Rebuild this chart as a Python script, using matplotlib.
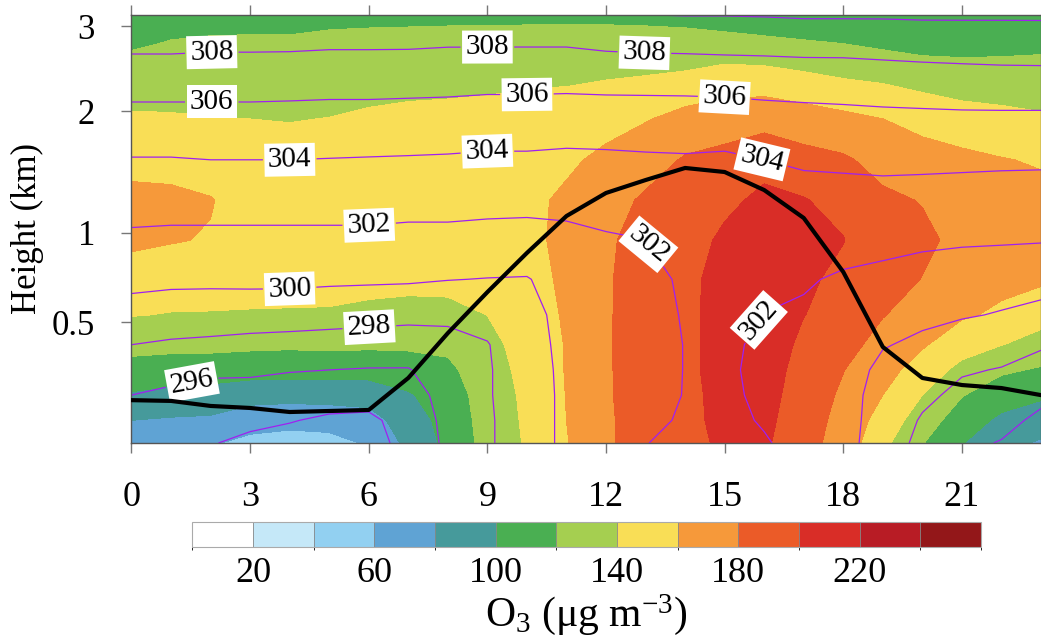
import numpy as np
import matplotlib
matplotlib.use('Agg')
import matplotlib.pyplot as plt
from matplotlib.colors import ListedColormap, BoundaryNorm

plt.rcParams['font.family'] = ['Liberation Serif', 'DejaVu Serif']
plt.rcParams['mathtext.fontset'] = 'custom'
plt.rcParams['mathtext.rm'] = 'Liberation Serif'
plt.rcParams['mathtext.it'] = 'Liberation Serif:italic'

hours = list(range(24))
heights_km = [0.02, 0.11, 0.21, 0.31, 0.41, 0.54, 0.74, 0.96, 1.27, 1.60, 1.93, 2.37, 2.78, 3.13]

# O3 (ug m-3), one list per hour, bottom -> top
o3_by_hour = [
    [70, 80, 98, 113, 126, 141, 153, 163, 166, 153, 142, 129.4, 118.1, 108.4],
    [68, 78, 94, 111, 125, 139, 151, 161, 165, 152, 141.4, 130.7, 121.3, 113.3],
    [62, 77, 92, 110, 125, 139, 148, 159, 161, 150, 140.6, 130.7, 122.2, 114.9],
    [55, 68, 88, 108, 124, 138, 150, 153, 152, 146, 140.1, 130.6, 122.4, 115.3],
    [52, 66, 87, 108, 123, 137.5, 150, 153, 152, 146, 139.5, 130.3, 122.3, 115.4],
    [54, 67, 88, 108, 124, 137, 150, 154, 153, 147, 140.4, 131.4, 123.4, 116.6],
    [62, 72, 88, 108, 123, 134, 148, 155, 154, 148, 142.5, 132.7, 124.1, 116.8],
    [85, 90, 98, 111, 123, 133, 146, 156, 155, 150, 144.3, 133.9, 124.7, 116.8],
    [105, 107, 110, 116, 124, 134, 146, 156, 155, 150, 145, 134.6, 125.1, 117],
    [127, 128, 129, 131, 134, 140.2, 150, 157, 156, 151, 146, 135.6, 125.5, 116.8],
    [142, 143, 144, 146, 148, 151, 154, 156, 156, 152, 149, 136.9, 126.2, 116.9],
    [159, 160, 160.5, 161, 161, 162, 163, 164, 163, 157, 147.4, 138.3, 126.7, 116.7],
    [176, 176, 177, 177, 177, 177, 177, 176, 172, 164, 154, 139.8, 127.3, 116.4],
    [192, 193, 193, 194, 194, 194, 193, 190, 183, 171, 159.1, 141.6, 127.6, 115.6],
    [193, 194, 194, 195, 195, 195, 195, 193, 189, 182, 166, 144.1, 127.6, 114.2],
    [204, 206, 207, 208, 208, 208, 207, 203, 196, 186, 170.5, 149.2, 128.4, 109],
    [203, 205, 207, 209, 211, 212, 211, 209, 204, 194, 173, 149.1, 126.2, 105.5],
    [187, 189, 191, 193, 196, 200.5, 203, 204, 201, 187, 168.6, 145, 123.1, 104.4],
    [172, 174, 177, 180.5, 186, 191, 196, 200.5, 194, 183, 163.7, 140.6, 120.6, 103.4],
    [145, 152, 160, 167, 174, 181, 188, 189, 184, 172.7, 160.3, 137.6, 117, 104],
    [121, 130, 140, 151.6, 162, 170, 179.5, 184, 179, 168, 154, 132.6, 114.2, 105],
    [101, 110, 121, 134, 149, 163, 171, 175, 172, 165, 148, 129.4, 114.5, 106],
    [85, 96, 109, 123, 140.5, 156, 166, 170, 168, 161, 145, 128.8, 115.4, 106],
    [78, 89, 103, 118, 133, 148, 163, 168, 166, 158, 142, 128.6, 116.6, 107],
]

# potential temperature (K), one list per hour, bottom -> top
theta_by_hour = [
    [294.4, 295.2, 296.0, 297.0, 298.0, 299.25, 300.5, 301.7, 302.8, 303.9, 305.4, 306.9, 308.4, 309.6],
    [294.3, 294.9, 295.6, 296.7, 297.8, 299.0, 300.4, 301.6, 302.8, 303.9, 305.4, 306.9, 308.4, 309.6],
    [294.1, 294.6, 295.2, 296.4, 297.7, 298.9, 300.4, 301.6, 302.8, 304.0, 305.4, 306.9, 308.3, 309.5],
    [293.6, 294.4, 295.3, 296.3, 297.5, 298.95, 300.4, 301.6, 302.8, 304.0, 305.4, 306.9, 308.3, 309.5],
    [293.3, 294.1, 295.1, 296.1, 297.4, 298.9, 300.4, 301.6, 302.8, 304.0, 305.4, 306.8, 308.3, 309.5],
    [292.8, 293.7, 294.9, 296.0, 297.3, 298.8, 300.3, 301.6, 302.8, 303.95, 305.3, 306.8, 308.2, 309.4],
    [293.3, 293.6, 294.8, 295.9, 297.2, 298.7, 300.25, 301.6, 302.8, 303.9, 305.3, 306.8, 308.2, 309.4],
    [294.6, 294.8, 295.2, 295.9, 297.1, 298.6, 300.2, 301.5, 302.7, 303.85, 305.3, 306.7, 308.2, 309.4],
    [296.4, 296.5, 296.7, 297.0, 297.5, 298.4, 300.05, 301.5, 302.7, 303.8, 305.2, 306.7, 308.1, 309.4],
    [297.7, 297.7, 297.8, 297.8, 297.9, 298.8, 299.95, 301.4, 302.6, 303.7, 305.1, 306.6, 308.1, 309.3],
    [299.3, 299.3, 299.3, 299.3, 299.4, 299.5, 299.9, 301.3, 302.6, 303.7, 305.1, 306.6, 308.1, 309.3],
    [300.3, 300.3, 300.3, 300.35, 300.4, 300.5, 300.8, 301.6, 302.5, 303.6, 305.0, 306.6, 308.1, 309.3],
    [301.1, 301.1, 301.2, 301.2, 301.2, 301.3, 301.5, 301.9, 302.5, 303.66, 305.0, 306.7, 308.3, 309.6],
    [301.98, 301.8, 301.7, 301.7, 301.7, 301.75, 301.8, 302.0, 302.9, 303.75, 305.05, 306.7, 308.4, 309.98],
    [302.2, 302.1, 302.03, 302.02, 302.02, 302.05, 302.1, 302.4, 303.0, 303.8, 305.1, 306.7, 308.45, 310.05],
    [302.4, 302.3, 302.25, 302.2, 302.2, 302.3, 302.4, 302.6, 303.0, 303.7, 305.1, 306.8, 308.5, 310.05],
    [302.1, 301.9, 301.75, 301.7, 301.8, 301.98, 302.3, 302.7, 303.2, 304.0, 305.3, 306.86, 308.54, 310.1],
    [301.6, 301.55, 301.5, 301.5, 301.6, 301.8, 302.15, 302.8, 303.45, 304.2, 305.4, 306.96, 308.6, 310.2],
    [300.4, 300.5, 300.6, 300.8, 301.0, 301.3, 301.8, 302.6, 303.4, 304.3, 305.5, 307.0, 308.6, 310.2],
    [299.4, 299.4, 299.4, 299.6, 300.1, 300.8, 301.55, 302.5, 303.4, 304.4, 305.6, 307.1, 308.7, 310.2],
    [297.3, 297.8, 298.45, 299.05, 299.7, 300.4, 301.3, 302.3, 303.3, 304.4, 305.65, 307.2, 308.8, 310.25],
    [296.4, 296.9, 297.5, 298.2, 299.1, 300.2, 301.1, 302.2, 303.25, 304.35, 305.7, 307.3, 308.84, 310.25],
    [295.9, 296.55, 297.2, 297.9, 298.8, 299.85, 301.0, 302.15, 303.2, 304.3, 305.7, 307.4, 308.85, 310.25],
    [294.9, 295.6, 296.45, 297.3, 298.2, 299.45, 300.75, 302.1, 303.1, 304.3, 305.7, 307.4, 308.9, 310.25],
]

# boundary layer height (km)
pbl_km = [0.19, 0.187, 0.167, 0.159, 0.143, 0.147, 0.151, 0.278, 0.456, 0.668, 0.888, 1.139,
          1.328, 1.434, 1.533, 1.50, 1.352, 1.123, 0.781, 0.401, 0.278, 0.250, 0.238, 0.210]

o3_levels = list(range(0, 261, 20))
o3_colors = ['#ffffff', '#c5e8f8', '#92d0f1', '#5fa3d4', '#469a9b', '#4aaf52', '#a5cf50',
             '#f9de56', '#f6993a', '#eb5b28', '#d92d27', '#b81c25', '#931719']
cbar_ticks = [20, 60, 100, 140, 180, 220]
theta_levels = list(range(294, 311, 2))
hour_ticks = list(range(0, 22, 3))
height_ticks = [0.5, 1, 2, 3]
height_labels = ['0.5', '1', '2', '3']

# model-level like vertical axis (stretched near the ground)
scale_km = [0.02, 0.5, 1.0, 2.0, 3.0, 3.13]
scale_pos = [0.0, 0.2827, 0.4907, 0.7757, 0.9743, 1.0]


def fwd(h):
    return np.interp(h, scale_km, scale_pos)


def inv(p):
    return np.interp(p, scale_pos, scale_km)


# where the theta labels sit (hour, km)
label_spots = [(2.03, 2.65), (9.0, 2.74), (12.97, 2.68),
               (2.03, 2.08), (10.0, 2.2), (15.0, 2.18),
               (4.0, 1.615), (9.0, 1.68), (15.95, 1.615),
               (6.02, 1.03), (13.04, 0.932), (15.87, 0.511),
               (4.0, 0.68), (6.02, 0.468), (1.53, 0.262)]

o3 = np.array(o3_by_hour).T
theta = np.array(theta_by_hour).T

fig = plt.figure(figsize=(10.41, 6.44), dpi=100)
ax = fig.add_axes([0.1263, 0.3121, 0.8737, 0.6646])
ax.set_yscale('function', functions=(fwd, inv))

cmap = ListedColormap(o3_colors)
norm = BoundaryNorm(o3_levels, cmap.N)
cf = ax.contourf(hours, heights_km, o3, levels=o3_levels, cmap=cmap, norm=norm)

cs = ax.contour(hours, heights_km, theta, levels=theta_levels, colors='#a020f0', linewidths=0.9)
labels = ax.clabel(cs, manual=label_spots, inline=True, inline_spacing=5, fmt='%d',
                   fontsize=21, colors='black')
for t in labels:
    t.set_bbox(dict(boxstyle='square,pad=0.12', fc='white', ec='none'))

ax.plot(hours, pbl_km, color='black', lw=3, zorder=5)

ax.set_xlim(0, 23)
ax.set_ylim(0.02, 3.13)
ax.set_xticks(hour_ticks)
ax.set_yticks(height_ticks)
ax.set_yticklabels(height_labels)
ax.minorticks_off()
ax.tick_params(axis='x', top=True, direction='out', length=7.5, width=1, color='#777777',
               labelsize=26, pad=20)
ax.tick_params(axis='y', direction='out', length=7.2, width=1, color='#777777',
               labelsize=25, pad=19)
for s in ax.spines.values():
    s.set_color('#555555')
    s.set_linewidth(1)

fig.text(27 / 1041, 1 - 229 / 644, 'Height (km)', rotation=90, ha='center', va='center', fontsize=25)

cax = fig.add_axes([0.1849, 0.1506, 0.7574, 0.0388])
cb = fig.colorbar(cf, cax=cax, orientation='horizontal', ticks=cbar_ticks, drawedges=True)
cb.outline.set_edgecolor('#aaaaaa')
cb.outline.set_linewidth(0.8)
cb.dividers.set_color('#888888')
cb.dividers.set_linewidth(0.6)
cax.tick_params(length=0, labelsize=26, pad=7)
fig.text(586 / 1041, 1 - 615 / 644, 'O$_\\mathrm{3}$ (μg m$^{\\mathrm{-3}}$)',
         ha='center', va='center', fontsize=30)

fig.savefig('out.png', dpi=100)
